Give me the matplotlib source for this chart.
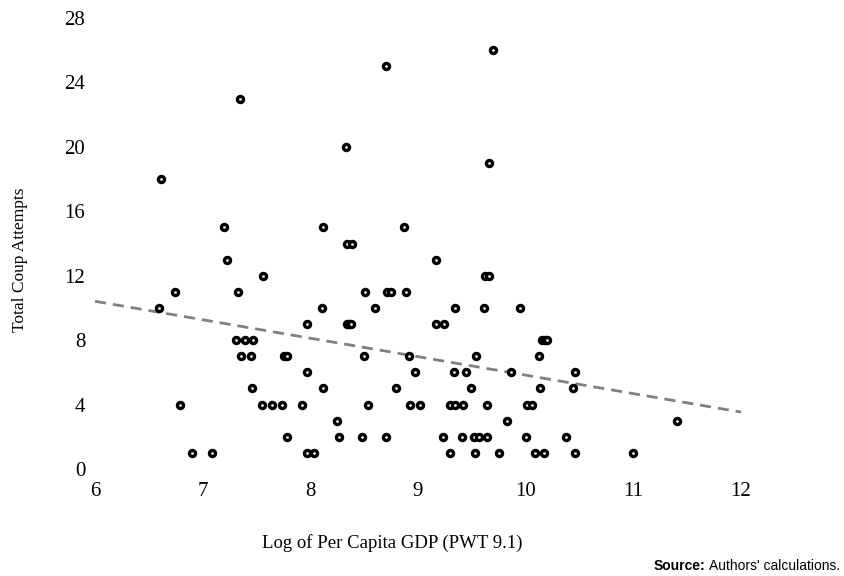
import numpy as np
import matplotlib
matplotlib.use("Agg")
import matplotlib.pyplot as plt

# log per capita GDP (x) and total coup attempts (y)
gdp = [9.70, 8.70, 7.35, 8.33, 9.66, 6.61,
       7.20, 8.12, 8.87,
       8.34, 8.39,
       7.23, 9.17,
       7.56, 9.62, 9.66,
       6.74, 7.33, 8.51, 8.71, 8.75, 8.89,
       6.59, 8.11, 8.60, 9.34, 9.61, 9.95,
       7.97, 8.34, 8.36, 8.38, 9.17, 9.24,
       7.31, 7.39, 7.47, 10.15, 10.18, 10.20,
       7.36, 7.45, 7.76, 7.78, 8.50, 8.92, 9.54, 10.12,
       7.97, 8.97, 9.33, 9.45, 9.86, 10.46,
       7.46, 8.12, 8.80, 9.49, 10.13, 10.44,
       6.79, 7.55, 7.64, 7.74, 7.92, 8.54, 8.93, 9.02, 9.30, 9.34, 9.42, 9.64, 10.01, 10.06,
       8.25, 9.83, 11.41,
       7.78, 8.27, 8.48, 8.70, 9.23, 9.41, 9.52, 9.57, 9.64, 10.00, 10.37,
       6.90, 7.09, 7.97, 8.03, 9.30, 9.53, 9.75, 10.09, 10.17, 10.46, 11.00]
coups = [26, 25, 23, 20, 19, 18,
         15, 15, 15,
         14, 14,
         13, 13,
         12, 12, 12,
         11, 11, 11, 11, 11, 11,
         10, 10, 10, 10, 10, 10,
         9, 9, 9, 9, 9, 9,
         8, 8, 8, 8, 8, 8,
         7, 7, 7, 7, 7, 7, 7, 7,
         6, 6, 6, 6, 6, 6,
         5, 5, 5, 5, 5, 5,
         4, 4, 4, 4, 4, 4, 4, 4, 4, 4, 4, 4, 4, 4,
         3, 3, 3,
         2, 2, 2, 2, 2, 2, 2, 2, 2, 2, 2,
         1, 1, 1, 1, 1, 1, 1, 1, 1, 1, 1]

x_ticks = [6, 7, 8, 9, 10, 11, 12]
y_ticks = [0, 4, 8, 12, 16, 20, 24, 28]

# linear trend
slope, icpt = np.polyfit(gdp, coups, 1)
xt = np.array([x_ticks[0], x_ticks[-1]])

serif = ["Liberation Serif", "DejaVu Serif"]
sans = ["Liberation Sans", "DejaVu Sans"]

fig = plt.figure(figsize=(8.45, 5.76), dpi=100)
ax = fig.add_axes([95/845, 1 - 469/576, (741-95)/845, (469-18)/576])

ax.plot(xt, icpt + slope * xt, linestyle=(0, (4, 2.5)), color="#808080", lw=2.0, zorder=1)
ax.plot(gdp, coups, linestyle="none", marker="o", ms=4.4, mew=2.4,
        mfc="white", mec="black", zorder=2)

ax.set_xlim(6, 12)
ax.set_ylim(0, 28)
ax.set_xticks(x_ticks)
ax.set_yticks(y_ticks)
for s in ax.spines.values():
    s.set_visible(False)
ax.tick_params(length=0, labelsize=15)
ax.tick_params(axis="x", pad=9)
ax.tick_params(axis="y", pad=7)
for lab in ax.get_xticklabels() + ax.get_yticklabels():
    lab.set_family(serif)

ax.set_xlabel("Log of Per Capita GDP (PWT 9.1)", family=serif, fontsize=13.5,
              labelpad=24, x=0.46)
ax.set_ylabel("Total Coup Attempts", family=serif, fontsize=12.5,
              labelpad=26, y=0.463)

t1 = fig.text(840/845, 1 - 566/576, "Authors' calculations.", ha="right", va="center",
              family=sans, fontsize=10)
fig.canvas.draw()
bb = t1.get_window_extent()
fig.text(bb.x0 / 845 - 0.004, 1 - 566/576, "Source:", ha="right", va="center",
         family=sans, fontsize=10, fontweight="bold")

fig.savefig("out.png", dpi=100)
